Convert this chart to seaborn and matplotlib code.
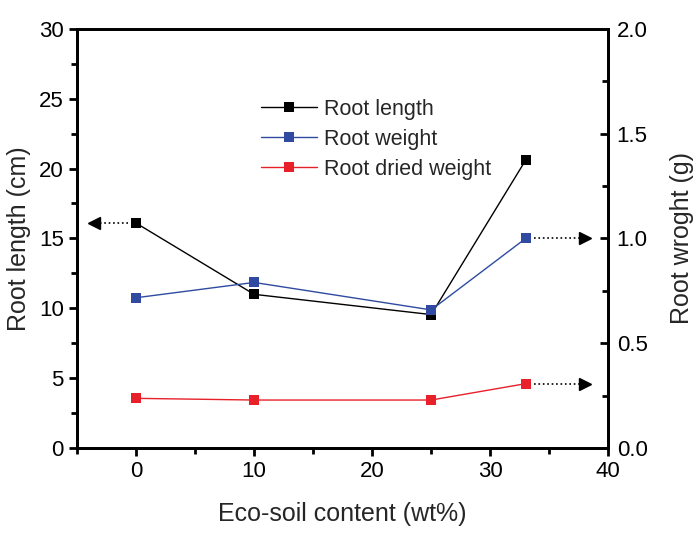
import matplotlib
matplotlib.use("Agg")
import matplotlib.pyplot as plt
import seaborn as sns
import pandas as pd
from matplotlib.ticker import MultipleLocator

# data
content = [0, 10, 25, 33]
root_length = [16.1, 11.0, 9.55, 20.6]        # cm, left axis
root_weight = [0.717, 0.79, 0.659, 1.0]        # g, right axis
root_dried_weight = [0.237, 0.229, 0.229, 0.307]  # g, right axis

sns.set_theme(style="white")
plt.rcParams['font.family'] = ['Liberation Sans', 'DejaVu Sans']

df = pd.DataFrame({'content': content, 'length': root_length,
                   'weight': root_weight, 'dried': root_dried_weight})

fig = plt.figure(figsize=(7, 5.34), dpi=100)
ax = fig.add_axes([0.11, 0.161, 0.759, 0.785])
ax2 = ax.twinx()

blue = '#2f4aa0'
red = '#e8202a'

sns.lineplot(data=df, x='content', y='length', ax=ax, color='black', marker='s',
             markersize=7, markeredgewidth=0, linewidth=1, label='Root length',
             legend=False)
sns.lineplot(data=df, x='content', y='weight', ax=ax2, color=blue, marker='s',
             markersize=7, markeredgewidth=0, linewidth=1, label='Root weight',
             legend=False)
sns.lineplot(data=df, x='content', y='dried', ax=ax2, color=red, marker='s',
             markersize=7, markeredgewidth=0, linewidth=1, label='Root dried weight',
             legend=False)

# dotted arrows pointing to the matching axis
ax.plot([content[0] - 0.7, -3.6], [root_length[0]] * 2, ':', color='black', lw=1.2)
ax.plot(-3.6, root_length[0], marker='<', color='black', markersize=8, ls='none')
for vals in (root_weight, root_dried_weight):
    ax2.plot([content[-1] + 0.7, 38.0], [vals[-1]] * 2, ':', color='black', lw=1.2)
    ax2.plot(38.0, vals[-1], marker='>', color='black', markersize=8, ls='none')

ax.set_xlim(-5, 40)
ax.set_ylim(0, 30)
ax2.set_ylim(0, 2.0)

ax.xaxis.set_major_locator(MultipleLocator(10))
ax.xaxis.set_minor_locator(MultipleLocator(5))
ax.yaxis.set_major_locator(MultipleLocator(5))
ax.yaxis.set_minor_locator(MultipleLocator(2.5))
ax2.yaxis.set_major_locator(MultipleLocator(0.5))
ax2.yaxis.set_minor_locator(MultipleLocator(0.25))
ax2.yaxis.set_major_formatter(matplotlib.ticker.FormatStrFormatter('%.1f'))

for a in (ax, ax2):
    for s in a.spines.values():
        s.set_linewidth(2)
        s.set_color('black')

ax.tick_params(axis='both', which='both', direction='out', width=2, colors='black',
               labelsize=16, bottom=True, left=True)
ax.tick_params(which='major', length=6)
ax.tick_params(which='minor', length=4)
ax2.tick_params(axis='y', which='both', direction='in', width=2, right=True,
                labelsize=16, colors='black', pad=6)
ax2.tick_params(which='major', length=6)
ax2.tick_params(which='minor', length=4)

ax.set_xlabel('Eco-soil content (wt%)', fontsize=18, labelpad=14)
ax.set_ylabel('Root length (cm)', fontsize=18, labelpad=6)
ax2.set_ylabel('Root wroght (g)', fontsize=18, labelpad=16)
ax.grid(False)
ax2.grid(False)

h1, l1 = ax.get_legend_handles_labels()
h2, l2 = ax2.get_legend_handles_labels()
ax.legend(h1 + h2, l1 + l2, loc='upper left', bbox_to_anchor=(0.31, 0.88),
          frameon=False, fontsize=15.5, handlelength=2.6, labelspacing=0.42,
          handletextpad=0.3)

fig.savefig('out.png', dpi=100)
